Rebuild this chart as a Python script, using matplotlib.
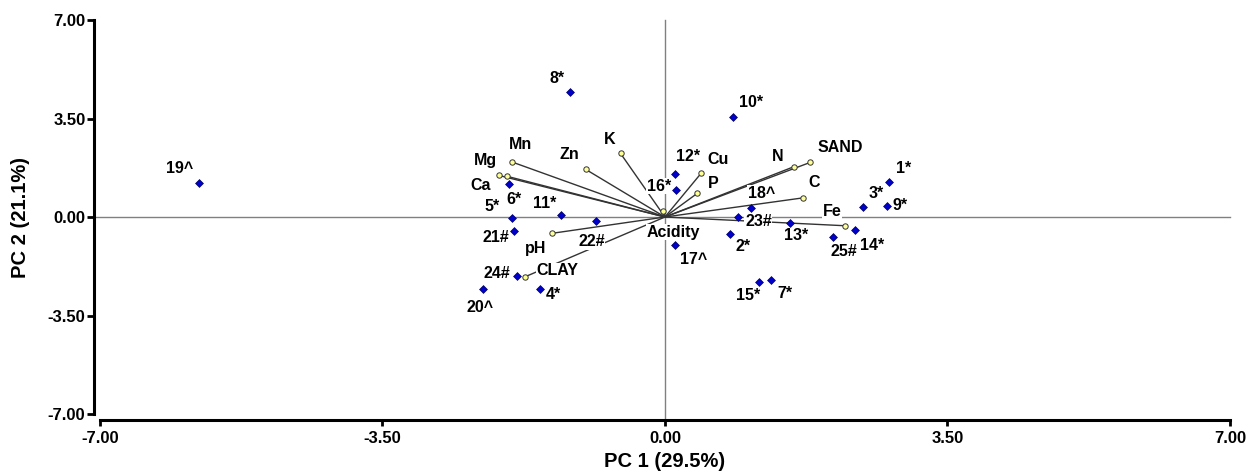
import matplotlib
matplotlib.use("Agg")
import matplotlib.pyplot as plt

plt.rcParams['font.family'] = ['Liberation Sans', 'DejaVu Sans']
plt.rcParams['font.weight'] = 'bold'

# Sample scores (PC1, PC2)
sample_names = ["19^", "8*", "10*", "12*", "16*", "18^", "23#", "13*", "3*", "1*",
                "9*", "14*", "25#", "2*", "17^", "15*", "7*", "21#", "24#", "20^",
                "4*", "22#", "11*", "5*", "6*"]
sample_pc1 = [-5.77, -1.18, 0.84, 0.12, 0.14, 1.07, 0.91, 1.55, 2.46, 2.78,
              2.75, 2.36, 2.08, 0.81, 0.12, 1.17, 1.31, -1.87, -1.83, -2.26,
              -1.55, -0.85, -1.29, -1.90, -1.93]
sample_pc2 = [1.21, 4.43, 3.56, 1.52, 0.95, 0.31, 0.01, -0.21, 0.34, 1.24,
              0.39, -0.47, -0.71, -0.59, -0.98, -2.30, -2.23, -0.49, -2.08, -2.57,
              -2.57, -0.13, 0.08, -0.04, 1.18]

# Variable loadings (PC1, PC2)
var_names = ["Mg", "Ca", "Mn", "Zn", "K", "Acidity", "Cu", "P", "N", "SAND",
             "C", "Fe", "pH", "CLAY"]
var_pc1 = [-2.06, -1.96, -1.89, -0.98, -0.55, -0.02, 0.45, 0.40, 1.60, 1.80,
           1.71, 2.23, -1.40, -1.73]
var_pc2 = [1.48, 1.45, 1.95, 1.69, 2.26, 0.21, 1.56, 0.84, 1.79, 1.94,
           0.68, -0.31, -0.58, -2.12]

# label offsets in pixels (dx right, dy up)
sample_offsets = [(-20, 14), (-13, 14), (18, 14), (13, 18), (-17, 4), (10, 15),
                  (20, -5), (6, -13), (13, 14), (14, 14), (13, 1), (17, -15),
                  (11, -15), (13, -13), (19, -15), (-11, -14), (14, -14), (-18, -7),
                  (-20, 2), (-2, -18), (14, -5), (-5, -21), (-16, 11), (-19, 12),
                  (5, -16)]
var_offsets = [(-13, 15), (-26, -9), (8, 18), (-16, 15), (-11, 14), (10, -21),
               (17, 14), (16, 10), (-16, 10), (30, 15), (11, 15), (-13, 14),
               (-16, -15), (32, 6)]

fig = plt.figure(figsize=(12.48, 4.73), dpi=100)
ax = fig.add_axes([0.0801, 0.1247, 0.9054, 0.833])

# zero lines run out to the offset spines
ax.axhline(0, xmin=-0.006, color="#808080", lw=1, zorder=1, clip_on=False)
ax.axvline(0, ymin=-0.016, color="#808080", lw=1, zorder=1, clip_on=False)

# vectors from origin
for x, y in zip(var_pc1, var_pc2):
    ax.plot([0, x], [0, y], color="#333333", lw=1, zorder=2)

ax.scatter(var_pc1, var_pc2, s=15, marker="o", color="#ffff99",
           edgecolors="#333333", linewidths=0.7, zorder=5)
ax.scatter(sample_pc1, sample_pc2, s=16, marker="D", color="#0000cc",
           edgecolors="#000066", linewidths=0.5, zorder=5)

box = dict(facecolor="white", edgecolor="none", pad=0.5)
for name, x, y, off in zip(sample_names, sample_pc1, sample_pc2, sample_offsets):
    ax.annotate(name, (x, y), xytext=off, textcoords="offset pixels",
                ha="center", va="center", fontsize=11.5, fontweight="bold",
                bbox=box, zorder=3)
for name, x, y, off in zip(var_names, var_pc1, var_pc2, var_offsets):
    ax.annotate(name, (x, y), xytext=off, textcoords="offset pixels",
                ha="center", va="center", fontsize=11.5, fontweight="bold",
                bbox=box, zorder=3)

ax.set_xlim(-7, 7)
ax.set_ylim(-7, 7)
ticks = [-7, -3.5, 0, 3.5, 7]
ax.set_xticks(ticks)
ax.set_yticks(ticks)
ax.set_xticklabels(["%.2f" % t for t in ticks])
ax.set_yticklabels(["%.2f" % t for t in ticks])
ax.tick_params(axis="y", length=5, width=2, pad=1, labelsize=12)
ax.tick_params(axis="x", length=4, width=2, pad=4, labelsize=12)

for side in ["top", "right"]:
    ax.spines[side].set_visible(False)
for side in ["left", "bottom"]:
    ax.spines[side].set_linewidth(2.2)
    ax.spines[side].set_position(("outward", 4.5))

ax.set_xlabel("PC 1 (29.5%)", fontsize=14.5, fontweight="bold")
ax.set_ylabel("PC 2 (21.1%)", fontsize=14.5, fontweight="bold")
ax.xaxis.label.set_va("center")
ax.yaxis.label.set_va("center")
ax.xaxis.set_label_coords(0.5, -0.121)
ax.yaxis.set_label_coords(-0.07, 0.5)

plt.savefig("out.png", dpi=100)
